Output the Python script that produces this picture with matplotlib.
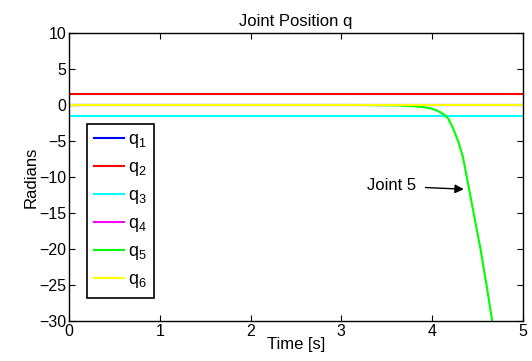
import numpy as np
import matplotlib
matplotlib.use("Agg")
import matplotlib.pyplot as plt

plt.rcParams["font.family"] = ["Liberation Sans", "DejaVu Sans"]
plt.rcParams["mathtext.fontset"] = "custom"
plt.rcParams["mathtext.rm"] = "Liberation Sans"
plt.rcParams["mathtext.it"] = "Liberation Sans"

# data
t_const = [0.0, 5.0]
q1 = [0.0, 0.0]
q2 = [1.57, 1.57]
q3 = [-1.57, -1.57]
q4 = [0.0, 0.0]
q6 = [0.0, 0.0]
t5 = [0.0, 3.0, 3.3, 3.57, 3.75, 3.9, 3.98, 4.04, 4.09, 4.14, 4.18, 4.23, 4.29, 4.34, 4.41, 4.47, 4.53, 4.60, 4.67]
q5 = [0.0, 0.0, -0.01, -0.05, -0.12, -0.28, -0.46, -0.7, -1.0, -1.4, -1.9, -3.2, -5.1, -7.2, -11.8, -15.8, -19.7, -25.0, -30.5]

labels = ["q$_1$", "q$_2$", "q$_3$", "q$_4$", "q$_5$", "q$_6$"]
colors = ["#0000ff", "#ff0000", "#00ffff", "#ff00ff", "#00ff00", "#ffff00"]

fig = plt.figure(figsize=(5.32, 3.61), dpi=100)
ax = fig.add_axes([0.1297, 0.1108, 0.853, 0.7978])

series = [(t_const, q1), (t_const, q2), (t_const, q3), (t_const, q4), (t5, q5), (t_const, q6)]
for (x, y), lab, c in zip(series, labels, colors):
    ax.plot(x, y, color=c, linewidth=1.5, label=lab)

ax.set_xlim(0, 5)
ax.set_ylim(-30, 10)
ax.set_xticks(range(0, 6))
ax.set_yticks(range(-30, 11, 5))
ax.tick_params(direction="in", top=True, right=True, labelsize=11.5, length=4, width=0.8, pad=2)
for s in ax.spines.values():
    s.set_linewidth(1.0)

ax.set_title("Joint Position q", fontsize=12, pad=5)
ax.set_xlabel("Time [s]", fontsize=12, labelpad=-1)
ax.set_ylabel("Radians", fontsize=12, labelpad=0)

ax.annotate("Joint 5", xy=(4.35, -11.7), xytext=(3.55, -11.25),
            fontsize=12, ha="center", va="center",
            arrowprops=dict(arrowstyle="-|>", color="black", lw=1.0,
                            shrinkA=5, shrinkB=0, mutation_scale=13))

leg = ax.legend(loc="upper left", bbox_to_anchor=(0.039, 0.684), fontsize=13,
                fancybox=False, edgecolor="black", framealpha=1,
                handlelength=1.65, borderpad=0.4, labelspacing=0.5,
                handletextpad=0.25, borderaxespad=0)
leg.get_frame().set_linewidth(1.2)

fig.savefig("out.png", dpi=100)
